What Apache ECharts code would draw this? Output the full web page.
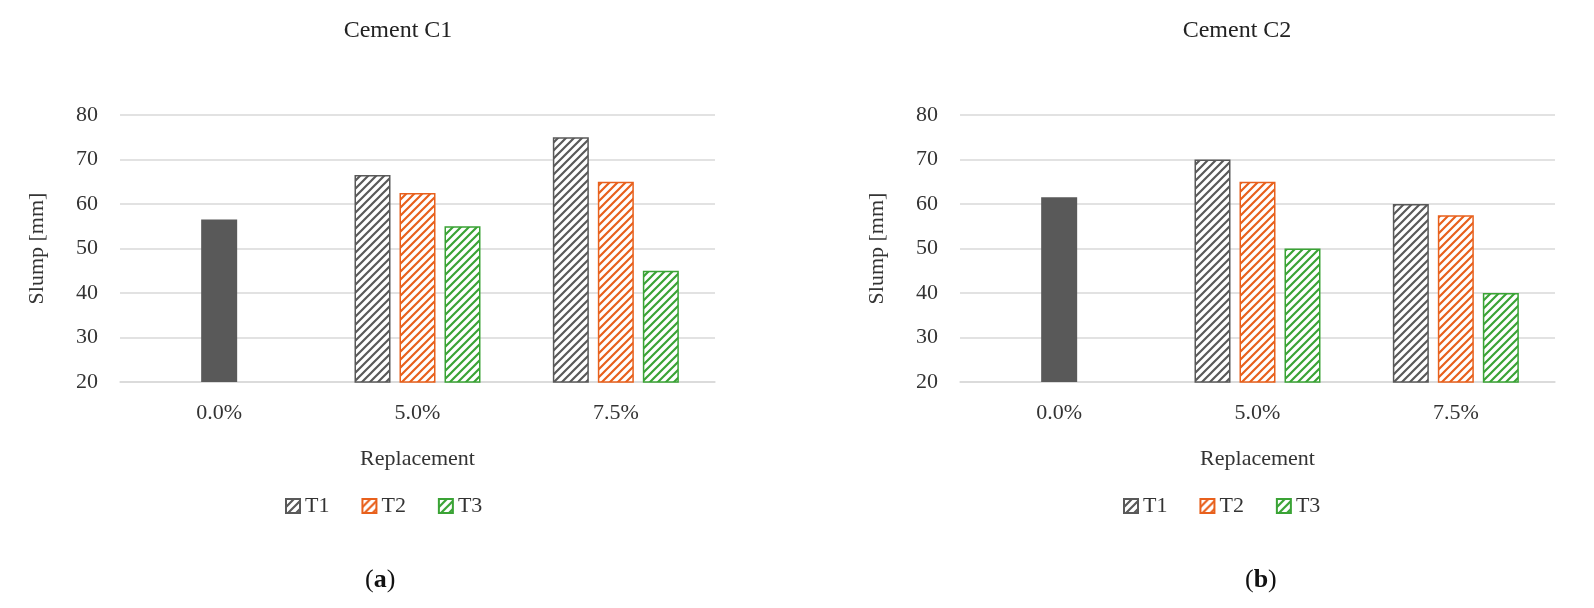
<!DOCTYPE html>
<html><head><meta charset="utf-8">
<script src="https://cdn.jsdelivr.net/npm/echarts@6/dist/echarts.min.js"></script>
<style>html,body{margin:0;background:#fff}#c{width:1594px;height:608px}</style>
</head><body><div id="c"></div>
<script>
var categories = ['0.0%', '5.0%', '7.5%'];
var yTicks = [20, 30, 40, 50, 60, 70, 80];
// Cement C1
var c1Control = [56.5, null, null];
var c1T1 = [null, 66.5, 75];
var c1T2 = [null, 62.5, 65];
var c1T3 = [null, 55, 45];
// Cement C2
var c2Control = [61.5, null, null];
var c2T1 = [null, 70, 60];
var c2T2 = [null, 65, 57.5];
var c2T3 = [null, 50, 40];

function hatch(color) {
  var cv = document.createElement('canvas');
  cv.width = 8; cv.height = 8;
  var g = cv.getContext('2d');
  g.fillStyle = '#fff'; g.fillRect(0, 0, 8, 8);
  g.strokeStyle = color; g.lineWidth = 2.2;
  g.beginPath();
  g.moveTo(-2, 10); g.lineTo(10, -2);
  g.moveTo(-6, 6); g.lineTo(6, -6);
  g.moveTo(2, 14); g.lineTo(14, 2);
  g.stroke();
  return { image: cv, repeat: 'repeat' };
}
var cols = { T1: '#595959', T2: '#e8601c', T3: '#3aa335' };
var font = 'Liberation Serif';

var myChart = echarts.init(document.getElementById('c'));
var grids = [{ left: 120, width: 595, top: 115, height: 267 }, { left: 960, width: 595, top: 115, height: 267 }];
var xAxes = [], yAxes = [], series = [];
var sets = [[c1Control, c1T1, c1T2, c1T3], [c2Control, c2T1, c2T2, c2T3]];
[0, 1].forEach(function (i) {
  xAxes.push({
    gridIndex: i, type: 'category', data: categories,
    name: 'Replacement', nameLocation: 'middle', nameGap: 66,
    nameTextStyle: { fontFamily: font, fontSize: 22, color: '#333' },
    axisTick: { show: false }, axisLine: { lineStyle: { color: '#d9d9d9', width: 1.5 } },
    axisLabel: { fontFamily: font, fontSize: 22, color: '#333', margin: 20 }
  });
  yAxes.push({
    gridIndex: i, type: 'value', min: 20, max: 80, interval: 10,
    name: 'Slump [mm]', nameLocation: 'middle', nameGap: 72,
    nameTextStyle: { fontFamily: font, fontSize: 22, color: '#333' },
    axisLine: { show: false }, axisTick: { show: false },
    splitLine: { lineStyle: { color: '#d9d9d9', width: 1.5 } },
    axisLabel: { fontFamily: font, fontSize: 22, color: '#333', margin: 22 }
  });
  var d = sets[i];
  series.push({ name: 'Control', type: 'bar', xAxisIndex: i, yAxisIndex: i, stack: 'b' + i,
    data: d[0], itemStyle: { color: '#595959' } });
  ['T1', 'T2', 'T3'].forEach(function (n, k) {
    series.push({ name: n, type: 'bar', xAxisIndex: i, yAxisIndex: i,
      stack: ['a', 'b', 'c'][k] + i, data: d[k + 1], barWidth: 36, barGap: '25%',
      itemStyle: { color: hatch(cols[n]), borderColor: cols[n], borderWidth: 1.5 } });
  });
});
// reorder so stacks go a, b, c
series = [series[1], series[0], series[2], series[3], series[5], series[4], series[6], series[7]];

var legendBase = { data: ['T1', 'T2', 'T3'], icon: 'rect', itemWidth: 14, itemHeight: 14, itemGap: 32,
  textStyle: { fontFamily: font, fontSize: 22, color: '#333' } };
myChart.setOption({
  title: [
    { text: 'Cement C1', left: 393, top: 14, textAlign: 'center', textStyle: { fontFamily: font, fontSize: 24, fontWeight: 'normal', color: '#222' } },
    { text: 'Cement C2', left: 1232, top: 14, textAlign: 'center', textStyle: { fontFamily: font, fontSize: 24, fontWeight: 'normal', color: '#222' } },
    { text: '({a|a})', left: 360, top: 562, textStyle: { fontFamily: font, fontSize: 26, fontWeight: 'normal', color: '#111', rich: { a: { fontFamily: font, fontSize: 26, fontWeight: 'bold' } } } },
    { text: '({a|b})', left: 1240, top: 562, textStyle: { fontFamily: font, fontSize: 26, fontWeight: 'normal', color: '#111', rich: { a: { fontFamily: font, fontSize: 26, fontWeight: 'bold' } } } }
  ],
  grid: grids, xAxis: xAxes, yAxis: yAxes,
  legend: [Object.assign({ left: 280, top: 490 }, legendBase), Object.assign({ left: 1118, top: 490 }, legendBase)],
  series: series
});
</script></body></html>
